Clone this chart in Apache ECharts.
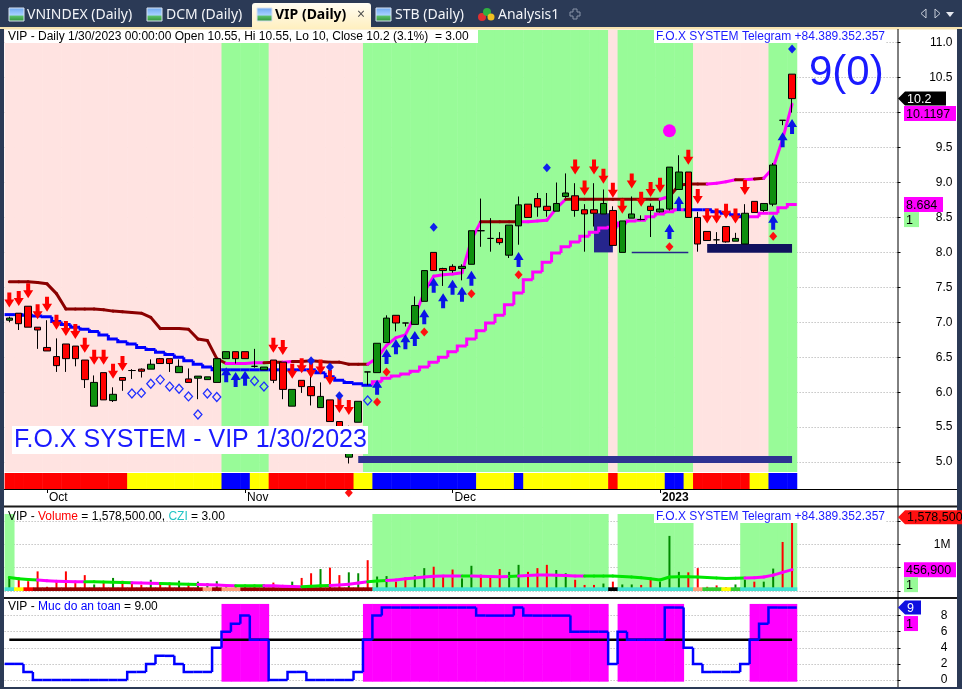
<!DOCTYPE html>
<html>
<head>
<meta charset="utf-8">
<script src="https://cdn.jsdelivr.net/npm/echarts@6.0.0/dist/echarts.min.js"></script>
<style>
html,body{margin:0;padding:0;background:#2b3a56;}
#chart{width:962px;height:689px;}
</style>
</head>
<body>
<div id="chart"></div>
<script>
// ---------------- DATA ----------------
const dates = [
'2022-09-27','2022-09-28','2022-09-29','2022-09-30',
'2022-10-03','2022-10-04','2022-10-05','2022-10-06','2022-10-07','2022-10-10','2022-10-11','2022-10-12','2022-10-13','2022-10-14',
'2022-10-17','2022-10-18','2022-10-19','2022-10-20','2022-10-21','2022-10-24','2022-10-25','2022-10-26','2022-10-27','2022-10-28','2022-10-31',
'2022-11-01','2022-11-02','2022-11-03','2022-11-04','2022-11-07','2022-11-08','2022-11-09','2022-11-10','2022-11-11','2022-11-14','2022-11-15',
'2022-11-16','2022-11-17','2022-11-18','2022-11-21','2022-11-22','2022-11-23','2022-11-24','2022-11-25','2022-11-28','2022-11-29','2022-11-30',
'2022-12-01','2022-12-02','2022-12-05','2022-12-06','2022-12-07','2022-12-08','2022-12-09','2022-12-12','2022-12-13','2022-12-14','2022-12-15',
'2022-12-16','2022-12-19','2022-12-20','2022-12-21','2022-12-22','2022-12-23','2022-12-26','2022-12-27','2022-12-28','2022-12-29','2022-12-30',
'2023-01-03','2023-01-04','2023-01-05','2023-01-06','2023-01-09','2023-01-10','2023-01-11','2023-01-12','2023-01-13','2023-01-16','2023-01-17',
'2023-01-18','2023-01-19','2023-01-27','2023-01-30'];

const opens = [7.03,7.13,7.23,6.93,6.64,6.51,6.69,6.66,6.46,5.80,
 6.28,5.88,6.21,6.31,6.33,6.33,6.48,6.48,6.28,6.19,
 6.20,6.18,6.14,6.48,6.58,6.58,6.37,6.32,6.46,6.43,
 5.80,6.17,6.08,5.78,5.89,5.58,5.07,5.57,6.29,6.28,
 6.71,7.10,6.99,6.97,7.30,8.00,7.77,7.80,7.77,7.83,
 8.31,8.20,8.20,7.96,8.38,8.69,8.77,8.66,8.59,8.80,
 8.81,8.61,8.61,8.55,8.60,8.00,8.49,8.47,8.66,8.58,
 8.62,8.90,9.15,8.50,8.30,8.18,8.37,8.16,8.12,8.73,
 8.60,8.69,9.89,10.55];
const closes = [7.06,6.98,6.93,6.89,6.59,6.38,6.48,6.48,6.18,6.14,
 5.89,5.97,6.17,6.31,6.30,6.40,6.41,6.41,6.37,6.14,
 6.23,6.22,6.48,6.58,6.48,6.48,6.37,6.36,6.17,6.04,
 6.04,6.08,5.95,5.94,5.58,5.20,5.50,5.87,6.29,6.70,
 7.06,6.99,6.99,7.24,7.74,7.74,7.74,7.74,7.80,8.31,
 8.31,8.20,8.14,8.39,8.68,8.50,8.65,8.60,8.70,8.85,
 8.60,8.55,8.56,8.70,8.10,8.45,8.55,8.47,8.60,8.62,
 9.22,9.15,8.50,8.12,8.17,8.18,8.15,8.20,8.56,8.57,
 8.70,9.25,9.89,10.20];
const lows = [7.00,6.89,6.93,6.62,6.59,6.29,6.29,6.37,6.06,5.80,
 5.89,5.86,6.02,6.19,6.21,6.33,6.41,6.29,6.28,6.14,
 5.90,6.18,6.14,6.48,6.41,6.48,6.35,6.32,6.13,5.90,
 5.80,5.99,5.81,5.78,5.58,5.15,4.98,5.57,6.10,6.28,
 6.71,6.87,6.94,6.97,7.30,7.74,7.52,7.71,7.60,7.83,
 8.08,8.01,8.11,7.92,8.11,8.50,8.51,8.51,8.59,8.78,
 8.51,8.01,8.37,8.55,8.10,8.00,8.49,8.46,8.22,8.57,
 8.60,8.90,8.50,8.01,8.17,8.12,8.14,8.16,8.12,8.57,
 8.58,8.66,9.82,10.00];
const highs = [7.08,7.13,7.23,6.93,7.03,6.77,6.69,6.66,6.46,6.24,
 6.28,6.07,6.21,6.33,6.34,6.47,6.49,6.48,6.47,6.34,
 6.23,6.22,6.48,6.58,6.58,6.58,6.62,6.36,6.46,6.43,
 6.04,6.17,6.26,6.14,5.89,5.58,5.52,5.87,6.29,6.70,
 7.10,7.10,6.99,7.37,7.74,8.00,7.78,7.83,7.83,8.31,
 8.77,8.49,8.29,8.39,8.80,8.69,8.85,8.85,9.00,9.13,
 8.99,8.69,8.99,8.90,8.66,8.45,8.80,8.53,8.70,8.74,
 9.22,9.39,9.15,8.58,8.30,8.29,8.37,8.28,8.69,8.73,
 8.70,9.28,9.89,10.55];

const volumes = [310000,250000,210000,420000,90000,200000,420000,170000,340000,140000,
 180000,280000,220000,180000,130000,240000,180000,130000,220000,140000,
 200000,170000,210000,130000,90000,100000,130000,140000,180000,130000,
 200000,280000,380000,470000,500000,340000,400000,380000,660000,310000,
 320000,200000,290000,340000,490000,520000,310000,460000,270000,540000,
 350000,310000,470000,410000,560000,410000,490000,560000,450000,380000,
 240000,130000,130000,160000,200000,140000,140000,130000,270000,200000,
 1180000,410000,400000,490000,90000,120000,80000,140000,240000,200000,
 200000,480000,1050000,1578500];
const volumeMA = [290000,260000,245000,235000,220000,210000,205000,200000,200000,200000,
 195000,190000,180000,175000,170000,165000,160000,155000,150000,145000,
 140000,135000,130000,120000,115000,114000,114000,114000,110000,100000,
 95000,93000,100000,110000,120000,130000,145000,170000,200000,215000,
 225000,235000,260000,280000,300000,315000,320000,320000,320000,320000,
 315000,310000,305000,310000,320000,330000,340000,342000,335000,330000,
 320000,320000,320000,320000,320000,310000,300000,285000,260000,235000,
 300000,305000,307000,300000,290000,280000,270000,275000,280000,285000,
 300000,340000,400000,456900];

// upper trailing line (0 = maroon, 1 = magenta)
const lineA = [7.58,7.58,7.58,7.57,7.55,7.41,7.19,7.19,7.19,7.19,
 7.18,7.16,7.15,7.14,7.13,7.07,6.91,6.91,6.91,6.90,
 6.76,6.74,6.48,6.41,6.41,6.41,6.42,6.42,6.43,6.43,
 6.44,6.44,6.45,6.44,6.43,6.43,6.40,6.40,6.40,6.49,
 6.67,6.78,6.82,7.09,7.43,7.66,7.68,7.69,7.71,8.18,
 8.44,8.44,8.44,8.44,8.44,8.44,8.45,8.46,8.63,8.76,
 8.76,8.76,8.76,8.76,8.76,8.76,8.76,8.76,8.76,8.76,
 8.80,8.96,8.98,8.98,8.98,8.99,9.01,9.04,9.04,9.05,
 9.06,9.21,9.62,10.12];
const lineAState = [0,0,0,0,0,0,0,0,0,0, 0,0,0,0,0,0,0,0,0,0, 0,0,0,0,1,1,1,1,0,0,
 1,0,0,0,0,0,0,0,0,1, 1,1,1,1,1,1,1,1,1,1, 1,0,0,0,0,1,1,1,1,1,
 0,0,0,0,0,0,0,0,0,0, 1,0,0,0,0,1,1,1,0,1, 0,1,1,1];
// lower trailing line (0 = blue, 1 = magenta)
const lineB = [7.11,7.11,7.10,7.09,7.08,7.01,6.97,6.93,6.90,6.87,
 6.82,6.76,6.72,6.69,6.64,6.61,6.57,6.54,6.50,6.45,
 6.40,6.36,6.32,6.32,6.32,6.32,6.32,6.32,6.32,6.32,
 6.32,6.32,6.32,6.28,6.22,6.17,6.14,6.12,6.10,6.15,
 6.20,6.23,6.26,6.30,6.36,6.43,6.50,6.58,6.66,6.76,
 6.88,6.99,7.10,7.25,7.42,7.61,7.72,7.86,7.99,8.08,
 8.15,8.23,8.29,8.35,8.36,8.42,8.45,8.46,8.51,8.55,
 8.58,8.61,8.61,8.61,8.61,8.58,8.56,8.54,8.51,8.51,
 8.56,8.56,8.64,8.684];
const lineBState = [0,0,0,0,0,0,0,0,0,0, 0,0,0,0,0,0,0,0,0,0, 0,0,0,0,0,0,0,0,0,0,
 0,0,0,0,0,0,0,0,0,1, 1,1,1,1,1,1,1,1,1,1, 1,1,1,1,1,1,1,1,1,1,
 1,1,1,1,1,1,1,1,1,1, 1,1,0,0,0,0,0,0,0,1, 1,1,1,1];
const volMaState = [0,0,0,0,1,1,1,1,1,0, 0,0,0,0,1,1,1,0,0,0, 0,1,1,1,1,0,0,0,1,1,
 1,1,0,0,0,1,1,1,1,0, 0,1,1,1,1,1,1,1,1,0, 1,1,1,1,0,1,1,1,1,1,
 1,1,0,0,0,0,0,0,0,0, 0,0,0,0,0,0,0,0,0,1, 1,1,1,1];

// background states
const priceZone = [0,0,0,0,0,0,0,0,0,0, 0,0,0,0,0,0,0,0,0,0, 0,0,0,1,1,1,1,1,0,0,
 0,0,0,0,0,0,0,0,1,1, 1,1,1,1,1,1,1,1,1,1, 1,1,1,1,1,1,1,1,1,1,
 1,1,1,1,0,1,1,1,1,1, 1,1,1,0,0,0,0,0,0,0, 0,1,1,1];
const ribbonState = [0,0,0,0,0,0,0,0,0,0, 0,0,0,1,1,1,1,1,1,1, 1,1,1,2,2,2,1,1,0,0,
 0,0,0,0,0,0,0,1,1,2, 2,2,2,2,2,2,2,2,2,2, 1,1,1,1,2,1,1,1,1,1,
 1,1,1,1,0,1,1,1,1,1, 2,2,1,0,0,0,0,0,0,1, 1,2,2,2];
const volZone = [1,0,0,0,0,0,0,0,0,0, 0,0,0,0,0,0,0,0,0,0, 0,0,0,0,0,0,0,0,0,0,
 0,0,0,0,0,0,0,0,0,1, 1,1,1,1,1,1,1,1,1,1, 1,1,1,1,1,1,1,1,1,1,
 1,1,1,1,0,1,1,1,1,1, 1,1,1,0,0,0,0,0,1,1, 1,1,1,1];
const stripState = [0,1,2,3,3,3,3,3,3,3, 3,3,3,3,3,3,3,3,3,3, 3,4,3,4,4,3,3,3,3,3,
 3,3,3,3,3,3,3,3,3,0, 0,0,0,0,0,0,0,0,0,0, 0,0,0,0,0,0,0,0,0,0,
 0,0,0,0,5,0,0,0,0,0, 0,0,0,4,6,6,1,6,0,0, 0,0,0,0];
const safety = [2,2,1,0,0,0,0,0,0,0, 0,0,0,1,1,2,3,3,2,1, 1,1,4,6,7,8,5,5,0,0,
 1,1,0,0,0,0,0,1,5,8, 9,9,9,9,9,9,9,9,9,9, 8,8,8,8,9,8,8,8,8,8,
 6,6,6,6,2,6,5,5,5,5, 9,9,4,2,1,1,1,1,2,5, 7,9,9,9];
const safetyLevel = 5;

// signals [barIndex, price]
const sellSignals = [[0,7.32],[1,7.34],[2,7.45],[3,7.15],[4,7.26],[5,7.00],[6,6.91],[7,6.87],[8,6.67],[9,6.50],[10,6.50],[11,6.30],[12,6.41],
 [28,6.67],[29,6.64],[30,6.30],[31,6.38],[32,6.31],[33,6.36],[34,6.21],[35,5.81],[36,5.78],
 [60,9.22],[61,8.92],[62,9.22],[63,9.09],[64,8.89],[65,8.66],[66,9.02],[67,8.76],[68,8.90],[69,8.96],
 [72,9.36],[73,8.80],[74,8.52],[75,8.52],[76,8.59],[77,8.52],[78,8.93]];
const buySignals = [[23,6.25],[24,6.18],[25,6.20],[39,6.07],[40,6.51],[41,6.65],[42,6.72],[43,6.77],[44,7.08],[45,7.53],
 [46,7.31],[47,7.50],[48,7.40],[49,7.63],[54,7.90],[70,8.30],[71,8.70],[81,8.43],[82,9.61],[83,9.80]];
const hollowDiamonds = [[13,5.98],[14,5.99],[15,6.12],[16,6.18],[17,6.08],[18,6.05],[19,5.94],[20,5.68],[21,5.98],[22,5.93],[26,6.16],[27,6.08],[38,5.88]];
const blueDiamonds = [[32,6.45],[34,6.36],[35,5.95],[45,8.36],[57,9.21],[83,10.91]];
const redDiamonds = [[36,4.56],[39,5.86],[40,6.29],[44,6.86],[49,7.41],[54,7.68],[70,8.08],[81,8.23]];
const magentaDots = [[70,9.74]];
// support zones [fromBar, toBar, low, high]
const supportZones = [[37,83,4.987,5.087],[62,64,8.0,8.56],[66,72,8.0,8.0],[74,83,7.996,8.12]];

const yTicksPrice = {min:4.5, max:11.1817, step:0.5};
const lastClose = 10.2, lastA = 10.1197, lastB = 8.684, lastVol = 1578500, lastVolMA = 456900, lastSafety = 9;

// ---------------- BUILD ----------------
const FONT = '"Liberation Sans", Arial, sans-serif';
const N = dates.length, NCAT = 95;
const cats = dates.slice();
for (let k = N; k < NCAT; k++) cats.push('pad' + k);
const monthStarts = [];
for (let i = 1; i < N; i++) if (dates[i].slice(5,7) !== dates[i-1].slice(5,7)) monthStarts.push(i);
const MN = {'01':'Jan','02':'Feb','03':'Mar','04':'Apr','05':'May','06':'Jun','07':'Jul','08':'Aug','09':'Sep','10':'Oct','11':'Nov','12':'Dec'};

const PINK = '#ffe3e1', GREEN = '#98fb98', MAG = '#ff00ff', MAROON = '#8b0000', BLUE = '#0000ff';
const GL = 4.6, GW = 895.9;
const PRICE_TOP = 11.1817, PRICE_BOT = 4.858;

function band(api, i, vTop, vBot) {
  const bw = api.size([1, 0])[0];
  const a = api.coord([i, vTop]), b = api.coord([i, vBot]);
  return {x: a[0] - bw / 2, y: a[1], width: bw + 0.5, height: b[1] - a[1]};
}
function stairSeries(xi, yi, vals, states, colors, width, z) {
  return {type:'custom', xAxisIndex:xi, yAxisIndex:yi, silent:true, z:z, clip:false,
    data: vals.map((v, i) => [i, i ? vals[i-1] : v, v, states ? states[i] : 0]),
    encode:{x:0, y:2},
    renderItem:(p, api) => {
      const i = api.value(0), bw = api.size([1,0])[0];
      const a = api.coord([i, api.value(1)]), b = api.coord([i, api.value(2)]);
      const xl = b[0] - bw/2, xr = b[0] + bw/2;
      return {type:'polyline', shape:{points:[[xl, a[1]],[xl, b[1]],[xr, b[1]]]},
        style:{stroke: colors[api.value(3)], lineWidth: width, fill: null}};
    }};
}
function segSeries(xi, yi, vals, states, colors, width, z) {
  return {type:'custom', xAxisIndex:xi, yAxisIndex:yi, silent:true, z:z,
    data: vals.slice(1).map((v, k) => [k+1, vals[k], v, states[k+1]]),
    encode:{x:0, y:2},
    renderItem:(p, api) => {
      const i = api.value(0);
      const a = api.coord([i-1, api.value(1)]), b = api.coord([i, api.value(2)]);
      return {type:'line', shape:{x1:a[0], y1:a[1], x2:b[0], y2:b[1]},
        style:{stroke: colors[api.value(3)], lineWidth: width, lineCap:'round'}};
    }};
}
function hiddenX(gi) {
  return {type:'category', gridIndex:gi, data:cats, show:true, boundaryGap:true,
    axisLine:{show:false}, axisTick:{show:false}, axisLabel:{show:false},
    splitLine:{show:false}};
}
const DOWN_ARROW = 'path://M3,0 L7,0 L7,7 L10,7 L5,15 L0,7 L3,7 Z';
const UP_ARROW = 'path://M5,0 L10,8 L7,8 L7,15 L3,15 L3,8 L0,8 Z';

const ohlc = opens.map((o, i) => [o, closes[i], lows[i], highs[i]]);
const volData = volumes.map((v, i) => ({value: v, itemStyle: {color: closes[i] > opens[i] ? '#008a00' : '#ff0000'}}));

const option = {
  animation: false,
  backgroundColor: '#ffffff',
  textStyle: {fontFamily: FONT},
  grid: [
    {left:GL, width:GW, top:30, height:467.05},
    {left:GL, width:GW, top:473, height:16},
    {left:GL, width:GW, top:514, height:77},
    {left:GL, width:GW, top:604, height:76}
  ],
  xAxis: [
    hiddenX(0),
    {type:'category', gridIndex:1, data:cats, boundaryGap:true,
      axisLine:{show:true, lineStyle:{color:'#000', width:1}},
      axisTick:{show:true, alignWithLabel:true, interval:(i) => monthStarts.indexOf(i) >= 0, length:4, lineStyle:{color:'#000'}},
      axisLabel:{show:true, interval:(i) => monthStarts.indexOf(i) >= 0, align:'left', margin:3, fontSize:12, color:'#000', fontFamily:FONT,
        padding:[0,0,0,2],
        formatter:(v) => { const m = v.slice(5,7); return m === '01' ? '{b|' + v.slice(0,4) + '}' : MN[m]; },
        rich:{b:{fontWeight:'bold', fontSize:12, color:'#000', fontFamily:FONT}}},
      splitLine:{show:false}},
    hiddenX(2),
    hiddenX(3)
  ],
  yAxis: [
    {type:'value', gridIndex:0, position:'right', min:yTicksPrice.min, max:yTicksPrice.max, interval:yTicksPrice.step,
      axisLine:{show:false}, axisTick:{show:true, inside:true, length:3, lineStyle:{color:'#000'}},
      axisLabel:{show:true, align:'right', margin:52, fontSize:12, color:'#000', fontFamily:FONT, showMinLabel:false, showMaxLabel:false,
        formatter:(v) => v.toFixed(1)},
      splitLine:{show:true, showMinLine:false, showMaxLine:false, lineStyle:{color:'#a8a8a8', type:[1,2], width:1}}},
    {type:'value', gridIndex:1, min:0, max:1, show:false},
    {type:'value', gridIndex:2, position:'right', min:0, max:1648800, interval:500000,
      axisLine:{show:false}, axisTick:{show:true, inside:true, length:3, lineStyle:{color:'#000'}},
      axisLabel:{show:true, align:'right', margin:50, fontSize:12, color:'#000', fontFamily:FONT, showMaxLabel:false,
        formatter:(v) => v === 1000000 ? '1M' : ''},
      splitLine:{show:true, showMaxLine:false, lineStyle:{color:'#a8a8a8', type:[1,2], width:1}}},
    {type:'value', gridIndex:3, position:'right', min:0, max:9.441, interval:2,
      axisLine:{show:false}, axisTick:{show:true, inside:true, length:3, lineStyle:{color:'#000'}},
      axisLabel:{show:true, align:'right', margin:47, fontSize:12, color:'#000', fontFamily:FONT, showMaxLabel:false,
        formatter:(v) => (v % 2 === 0 ? String(v) : '')},
      splitLine:{show:true, showMaxLine:false, lineStyle:{color:'#a8a8a8', type:[1,2], width:1}}}
  ],
  series: [
    {type:'custom', xAxisIndex:0, yAxisIndex:0, silent:true, z:1,
      data: priceZone.map((s, i) => [i, s]), encode:{x:0, y:1},
      renderItem:(p, api) => ({type:'rect', shape: band(api, api.value(0), PRICE_TOP, PRICE_BOT),
        style:{fill: api.value(1) ? GREEN : PINK}})},
    {type:'custom', xAxisIndex:0, yAxisIndex:0, silent:true, z:2,
      data: supportZones.map((d, k) => [d[0], d[1], d[2], d[3], k]), encode:{x:0, y:2},
      renderItem:(p, api) => {
        const a = api.coord([api.value(0), api.value(3)]), b = api.coord([api.value(1), api.value(2)]);
        const col = ['#2e3192','#25258c','#25258c','#11115e'][api.value(4)];
        if (b[1] - a[1] < 1) return {type:'line', shape:{x1:a[0], y1:a[1], x2:b[0], y2:a[1]}, style:{stroke:col, lineWidth:1.5}};
        return {type:'rect', shape:{x:a[0], y:a[1], width:b[0]-a[0], height:b[1]-a[1]}, style:{fill:col}};
      }},
    segSeries(0, 0, lineA, lineAState, [MAROON, MAG], 3, 3),
    stairSeries(0, 0, lineB, lineBState, [BLUE, MAG], 3, 3),
    {type:'candlestick', xAxisIndex:0, yAxisIndex:0, z:4, barWidth:7, data: ohlc,
      itemStyle:{color:'#0f8f0f', color0:'#ff0000', borderColor:'#000', borderColor0:'#000', borderColorDoji:'#000', borderWidth:1}},
    {type:'scatter', xAxisIndex:0, yAxisIndex:0, z:5, silent:true, data: sellSignals, symbol: DOWN_ARROW, symbolSize:[10,15],
      itemStyle:{color:'#ff0000', opacity:1}},
    {type:'scatter', xAxisIndex:0, yAxisIndex:0, z:5, silent:true, data: buySignals, symbol: UP_ARROW, symbolSize:[10,15],
      itemStyle:{color:'#0a14e6', opacity:1}},
    {type:'scatter', xAxisIndex:0, yAxisIndex:0, z:5, silent:true, data: hollowDiamonds, symbol:'diamond', symbolSize:[8,9],
      itemStyle:{color:'rgba(0,0,0,0)', borderColor:'#1f2fff', borderWidth:1.3, opacity:1}},
    {type:'scatter', xAxisIndex:0, yAxisIndex:0, z:5, silent:true, data: blueDiamonds, symbol:'diamond', symbolSize:[8,9],
      itemStyle:{color:'#1020ee', opacity:1}},
    {type:'scatter', xAxisIndex:0, yAxisIndex:0, z:5, silent:true, clip:false, data: redDiamonds, symbol:'diamond', symbolSize:[8,9],
      itemStyle:{color:'#ff1010', opacity:1}},
    {type:'scatter', xAxisIndex:0, yAxisIndex:0, z:5, silent:true, data: magentaDots, symbol:'circle', symbolSize:13,
      itemStyle:{color:MAG, opacity:1}},
    {type:'custom', xAxisIndex:1, yAxisIndex:1, silent:true, z:2,
      data: ribbonState.map((s, i) => [i, s]), encode:{x:0, y:1},
      renderItem:(p, api) => ({type:'rect', shape: band(api, api.value(0), 1, 0),
        style:{fill: ['#ff0000','#ffff00','#0000ff'][api.value(1)]}})},
    {type:'custom', xAxisIndex:2, yAxisIndex:2, silent:true, z:1,
      data: volZone.map((s, i) => [i, s]), encode:{x:0, y:1},
      renderItem:(p, api) => api.value(1) ? ({type:'rect', shape: band(api, api.value(0), 1648800, 0), style:{fill: GREEN}}) : null},
    {type:'bar', xAxisIndex:2, yAxisIndex:2, z:3, barWidth:2, silent:true, data: volData},
    {type:'custom', xAxisIndex:2, yAxisIndex:2, silent:true, z:4,
      data: stripState.map((s, i) => [i, s]), encode:{x:0, y:1},
      renderItem:(p, api) => {
        const r = band(api, api.value(0), 0, 0);
        return {type:'rect', shape:{x:r.x, y:r.y - 3.7, width:r.width, height:3.7},
          style:{fill: ['#40e0d0','#ffff00','#ff0000','#990000','#ffa07a','#000000','#32cd32'][api.value(1)]}};
      }},
    segSeries(2, 2, volumeMA, volMaState, ['#00e600', MAG], 3, 5),
    {type:'custom', xAxisIndex:3, yAxisIndex:3, silent:true, z:1, clip:false,
      data: safety.map((v, i) => [i, v >= safetyLevel ? 1 : 0]), encode:{x:0, y:1},
      renderItem:(p, api) => api.value(1) ? ({type:'rect', shape: band(api, api.value(0), 9.45, -0.21), style:{fill: MAG}}) : null},
    {type:'line', xAxisIndex:3, yAxisIndex:3, z:3, silent:true, symbol:'none',
      data: [[0, safetyLevel], [N - 1, safetyLevel]], lineStyle:{color:'#000', width:2.5}},
    stairSeries(3, 3, safety, null, [BLUE], 2.5, 4)
  ]
};

const chart = echarts.init(document.getElementById('chart'), null, {width:962, height:689, renderer:'canvas'});
chart.setOption(option);

// ---------------- DECORATION (frame, tabs, texts, tags) ----------------
const NAVY = '#2b3a56';
const TF = '"Noto Sans", "Liberation Sans", sans-serif';
const g = [];
function rect(x, y, w, h, fill, z) { g.push({type:'rect', z: z || 100, silent:true, shape:{x, y, width:w, height:h}, style:{fill}}); }
function text(x, y, t, font, fill, align, z) {
  g.push({type:'text', z: z || 101, silent:true, x, y, style:{text:t, font, fill, align: align || 'left', verticalAlign:'middle'}});
}
function line(x1, y1, x2, y2, stroke, w) { g.push({type:'line', z:100, silent:true, shape:{x1, y1, x2, y2}, style:{stroke, lineWidth:w}}); }

rect(0, 0, 962, 28, NAVY);
rect(0, 27, 962, 2.5, '#f7e3b0');
rect(0, 29, 4, 660, NAVY);
rect(957, 29, 5, 660, NAVY);
rect(0, 687, 962, 2, NAVY);
g.push({type:'rect', z:100, silent:true, shape:{x:252, y:3, width:119, height:26, r:[3,3,0,0]},
  style:{fill:{type:'linear', x:0, y:0, x2:0, y2:1, colorStops:[{offset:0, color:'#fffdf3'},{offset:1, color:'#ffefbf'}]}}});
function tabIcon(x) {
  g.push({type:'rect', z:101, silent:true, shape:{x:x, y:8, width:15, height:13},
    style:{fill:{type:'linear', x:0, y:0, x2:0, y2:1, colorStops:[{offset:0, color:'#6aa6f0'},{offset:0.55, color:'#a9d2ff'},{offset:0.6, color:'#5cc36a'},{offset:1, color:'#2f8f3a'}]}, stroke:'#d8e2f0', lineWidth:1}});
}
tabIcon(9); tabIcon(147); tabIcon(257); tabIcon(376);
text(27, 15, 'VNINDEX (Daily)', '14px ' + TF, '#f2f4f8');
text(166, 15, 'DCM (Daily)', '14px ' + TF, '#f2f4f8');
text(275, 15, 'VIP (Daily)', 'bold 14px ' + TF, '#000000');
text(357, 15, '×', '14px ' + TF, '#505050');
text(395, 15, 'STB (Daily)', '14px ' + TF, '#f2f4f8');
g.push({type:'circle', z:101, silent:true, shape:{cx:482, cy:17, r:4}, style:{fill:'#e03030'}});
g.push({type:'circle', z:101, silent:true, shape:{cx:487, cy:12, r:4}, style:{fill:'#30b040'}});
g.push({type:'circle', z:101, silent:true, shape:{cx:491, cy:17, r:3.5}, style:{fill:'#f0c020'}});
text(498, 15, 'Analysis1', '14px ' + TF, '#f2f4f8');
g.push({type:'polygon', z:101, silent:true, shape:{points:[[573,9],[577,9],[577,12],[580,12],[580,16],[577,16],[577,19],[573,19],[573,16],[570,16],[570,12],[573,12]]},
  style:{fill:null, stroke:'#8a94a8', lineWidth:1}});
g.push({type:'polygon', z:101, silent:true, shape:{points:[[926,9],[926,18],[921,13.5]]}, style:{fill:null, stroke:'#c8cdd8', lineWidth:1}});
g.push({type:'polygon', z:101, silent:true, shape:{points:[[935,9],[935,18],[940,13.5]]}, style:{fill:null, stroke:'#c8cdd8', lineWidth:1}});
g.push({type:'polygon', z:101, silent:true, shape:{points:[[946,12],[954,12],[950,17]]}, style:{fill:'#e6e9f0'}});

line(4, 489.5, 957, 489.5, '#000', 1);
line(4, 506.5, 957, 506.5, '#1a1a1a', 2);
line(4, 598, 957, 598, '#1a1a1a', 2);
line(898, 29, 898, 687, '#000', 1);

rect(5, 30, 473, 13, '#ffffff');
text(8, 36.5, 'VIP - Daily 1/30/2023 00:00:00 Open 10.55, Hi 10.55, Lo 10, Close 10.2 (3.1%)  = 3.00', '12px ' + FONT, '#000');
rect(654, 30, 232, 13, '#ffffff');
text(885, 36.5, 'F.O.X SYSTEM Telegram +84.389.352.357', '12px ' + FONT, '#1a1aff', 'right');
text(809, 73, '9(0)', '42px ' + FONT, '#1a1aff');
rect(12, 426, 356, 28, '#ffffff');
text(14, 440.5, 'F.O.X SYSTEM - VIP 1/30/2023', '25px ' + FONT, '#1a1aff');

g.push({type:'text', z:101, silent:true, x:8, y:517, style:{text:'VIP - {r|Volume} = 1,578,500.00, {c|CZI} = 3.00', font:'12px ' + FONT, fill:'#000', verticalAlign:'middle',
  rich:{r:{fill:'#ff0000', font:'12px ' + FONT}, c:{fill:'#22c4c4', font:'12px ' + FONT}}}});
rect(654, 510, 232, 13, '#ffffff');
text(885, 516.5, 'F.O.X SYSTEM Telegram +84.389.352.357', '12px ' + FONT, '#1a1aff', 'right');
g.push({type:'text', z:101, silent:true, x:8, y:607, style:{text:'VIP - {b|Muc do an toan} = 9.00', font:'12px ' + FONT, fill:'#000', verticalAlign:'middle',
  rich:{b:{fill:'#0000ff', font:'12px ' + FONT}}}});

const py = (v) => chart.convertToPixel({yAxisIndex:0}, v);
const vy = (v) => chart.convertToPixel({yAxisIndex:2}, v);
const sy = (v) => chart.convertToPixel({yAxisIndex:3}, v);
function arrowTag(y, w, fill, txt, txtFill) {
  g.push({type:'polygon', z:102, silent:true, shape:{points:[[898,y],[905,y-7],[898+w,y-7],[898+w,y+7],[905,y+7]]}, style:{fill}});
  text(907, y + 0.5, txt, '12.5px ' + FONT, txtFill, 'left', 103);
}
function boxTag(y, w, fill, txt) {
  rect(904, y - 7.5, w, 15, fill, 102);
  text(906, y + 0.5, txt, '12.5px ' + FONT, '#000', 'left', 103);
}
const yc = py(lastClose);
arrowTag(yc, 48, '#000', String(lastClose), '#fff');
const ya = Math.max(py(lastA), yc + 15);
boxTag(ya, 52, MAG, String(lastA));
const yb = py(lastB);
boxTag(yb, 39, MAG, String(lastB));
boxTag(yb + 15, 15, GREEN, '1');
const yv = vy(lastVol);
arrowTag(yv, 64, '#ff1010', '1,578,500', '#000');
const yvm = vy(lastVolMA);
boxTag(yvm, 52, MAG, '456,900');
boxTag(yvm + 15, 14, GREEN, '1');
const ys = sy(lastSafety);
arrowTag(ys, 23, '#1010e0', String(lastSafety), '#fff');
boxTag(ys + 16, 14, MAG, '1');

chart.setOption({graphic: g});
</script>
</body>
</html>
